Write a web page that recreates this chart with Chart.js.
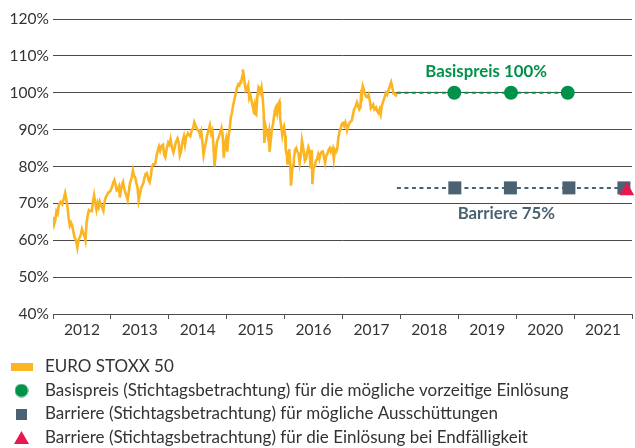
<!DOCTYPE html>
<html><head><meta charset="utf-8">
<script src="https://cdn.jsdelivr.net/npm/chart.js@4.4.1/dist/chart.umd.min.js"></script>
<style>
html,body{margin:0;padding:0;background:#fff;overflow:hidden;width:635px;height:448px;}
#main{position:absolute;left:0;top:0;}
#leg{position:absolute;left:0;top:352px;}
</style></head><body>
<canvas id="main" width="635" height="350"></canvas>
<canvas id="leg" width="635" height="110"></canvas>
<script>
// ---------- data ----------
const yearLabels = ['2012','2013','2014','2015','2016','2017','2018','2019','2020','2021'];
const yTickValues = [40,50,60,70,80,90,100,110,120];

const stoxxDates = [
2012.00,2012.02,2012.04,2012.06,2012.08,2012.10,2012.13,2012.16,2012.19,2012.21,2012.23,2012.25,2012.27,2012.29,2012.31,2012.33,2012.35,2012.37,2012.39,2012.41,2012.42,2012.44,2012.46,2012.48,2012.50,2012.52,2012.54,2012.56,2012.58,2012.60,2012.62,2012.64,2012.67,2012.69,2012.71,2012.73,2012.75,2012.77,2012.79,2012.81,2012.83,2012.85,2012.87,2012.89,2012.91,2012.94,2012.96,2012.99,
2013.02,2013.04,2013.06,2013.08,2013.10,2013.12,2013.14,2013.155,2013.17,2013.19,2013.21,2013.23,2013.25,2013.27,2013.29,2013.31,2013.33,2013.36,2013.38,2013.40,2013.42,2013.44,2013.46,2013.48,2013.50,2013.52,2013.54,2013.56,2013.58,2013.60,2013.62,2013.65,2013.67,2013.69,2013.71,2013.73,2013.75,2013.77,2013.79,2013.81,2013.83,2013.85,2013.87,2013.90,2013.92,2013.94,2013.96,2013.99,
2014.01,2014.03,2014.05,2014.08,2014.10,2014.12,2014.15,2014.17,2014.19,2014.21,2014.24,2014.26,2014.28,2014.30,2014.33,2014.35,2014.37,2014.40,2014.42,2014.44,2014.46,2014.48,2014.50,2014.52,2014.54,2014.56,2014.58,2014.60,2014.62,2014.64,2014.66,2014.69,2014.71,2014.73,2014.75,2014.77,2014.79,2014.81,2014.83,2014.85,2014.88,2014.91,2014.93,2014.95,2014.97,2014.99,
2015.01,2015.03,2015.05,2015.07,2015.09,2015.11,2015.13,2015.16,2015.18,2015.20,2015.22,2015.24,2015.25,2015.27,2015.28,2015.30,2015.32,2015.33,2015.35,2015.37,2015.39,2015.41,2015.44,2015.46,2015.48,2015.49,2015.51,2015.53,2015.55,2015.57,2015.58,2015.60,2015.62,2015.64,2015.65,2015.67,2015.69,2015.71,2015.73,2015.74,2015.76,2015.78,2015.80,2015.82,2015.83,2015.85,2015.87,2015.89,2015.91,2015.92,2015.94,2015.96,2015.98,2015.99,
2016.01,2016.02,2016.04,2016.05,2016.07,2016.08,2016.10,2016.11,2016.13,2016.15,2016.16,2016.18,2016.20,2016.22,2016.24,2016.26,2016.28,2016.30,2016.33,2016.35,2016.37,2016.39,2016.41,2016.43,2016.45,2016.47,2016.48,2016.50,2016.52,2016.54,2016.56,2016.58,2016.60,2016.62,2016.64,2016.66,2016.68,2016.70,2016.72,2016.74,2016.76,2016.78,2016.80,2016.83,2016.85,2016.87,2016.89,2016.91,2016.93,2016.95,2016.97,2016.99,
2017.01,2017.03,2017.05,2017.07,2017.08,2017.10,2017.12,2017.14,2017.16,2017.18,2017.20,2017.22,2017.25,2017.27,2017.29,2017.31,2017.32,2017.33,2017.35,2017.37,2017.39,2017.41,2017.43,2017.45,2017.47,2017.49,2017.51,2017.53,2017.55,2017.58,2017.60,2017.62,2017.64,2017.66,2017.68,2017.70,2017.72,2017.75,2017.77,2017.79,2017.81,2017.83,2017.84,2017.86,2017.88,2017.90,2017.92,2017.94
];
const stoxxValues = [
66.3,64.3,65.5,67.8,67.2,69.5,70.4,69.8,71.5,72.8,71.0,69.0,66.0,64.0,64.8,64.1,62.5,60.9,60.2,58.9,58.0,60.0,60.8,61.5,63.0,62.0,61.3,60.0,64.7,66.8,68.2,68.0,67.9,70.5,72.2,70.0,68.3,70.1,69.0,70.5,69.6,68.8,68.0,70.4,71.6,72.5,73.0,73.3,
74.5,75.6,76.3,75.2,73.5,73.7,74.5,71.6,73.3,75.0,75.8,74.0,73.0,72.0,70.9,73.3,75.5,77.0,78.9,77.5,77.0,75.5,74.3,70.8,72.4,74.0,74.8,75.5,77.0,78.0,78.2,76.3,75.7,77.5,80.0,80.6,80.5,81.0,83.0,84.3,85.4,84.3,85.5,85.9,83.2,82.5,84.5,86.5,
86.0,87.4,85.5,83.8,85.0,86.5,87.6,86.5,83.0,84.0,87.0,88.2,86.0,88.0,89.0,88.5,88.2,90.0,90.3,92.0,91.2,90.5,89.8,89.8,88.5,89.5,86.7,83.2,85.0,86.5,88.3,90.0,91.2,89.0,89.8,86.0,80.0,83.5,86.6,87.5,88.8,90.4,88.5,82.4,86.2,87.5,
84.0,88.0,90.0,93.2,94.5,96.5,98.0,100.1,101.5,102.3,102.0,103.0,102.9,104.5,106.3,104.0,101.5,100.6,101.0,102.0,98.5,99.3,97.0,95.5,96.8,94.3,94.0,99.0,101.5,101.0,100.2,101.5,98.8,94.5,86.4,91.0,89.5,88.0,89.5,84.0,87.0,90.0,91.5,94.0,95.1,96.0,94.5,97.0,97.6,93.5,91.0,88.5,90.5,90.9,
88.3,84.5,83.0,80.5,83.5,84.7,80.0,74.8,79.0,80.5,82.0,84.5,85.0,84.0,83.6,81.0,83.0,87.0,84.2,81.5,82.0,84.0,85.2,84.0,79.5,84.5,75.2,79.7,80.0,81.5,82.0,83.2,82.0,83.5,84.0,84.1,82.5,81.0,83.0,83.5,84.5,85.0,84.0,85.0,82.0,84.5,84.0,84.9,88.0,89.5,90.5,91.6,
91.8,91.0,92.0,91.0,89.9,91.0,91.8,92.2,92.4,94.0,95.5,96.0,97.4,96.5,95.5,96.0,99.5,99.1,101.8,100.8,99.5,98.9,98.8,99.5,98.0,95.8,96.3,96.8,95.5,96.0,95.0,94.5,95.5,94.2,96.5,97.5,98.5,100.0,99.5,100.5,101.3,102.5,102.9,101.5,99.8,99.7,99.3,100.0
];

const strikeDates  = [2017.94, 2018.93, 2019.91, 2020.89];
const strikeValues = [100, 100, 100, 100];
const barrierDates  = [2017.94, 2018.94, 2019.90, 2020.91, 2021.86];
const barrierValues = [74.2, 74.2, 74.2, 74.2, 74.2];
const finalDates  = [2021.91];
const finalValues = [73.4];

const seriesNames = [
  'EURO STOXX 50',
  'Basispreis (Stichtagsbetrachtung) für die mögliche vorzeitige Einlösung',
  'Barriere (Stichtagsbetrachtung) für mögliche Ausschüttungen',
  'Barriere (Stichtagsbetrachtung) für die Einlösung bei Endfälligkeit'
];
const annotationTexts = ['Basispreis 100%', 'Barriere 75%'];
const annotationDates = [2019.48, 2019.83];
const annotationValues = [105.8, 67.2];

// ---------- styles ----------
const YELLOW = '#fbb522', GREEN = '#00924a', SLATE = '#4a6271', RED = '#e8184e', TEXT = '#333333';
const FONT = 'Lato, "Open Sans", sans-serif';

const pts = (xs, ys) => xs.map((x, i) => ({x, y: ys[i]}));

const annotationPlugin = {
  id: 'textLabels',
  afterDatasetsDraw(chart) {
    const {ctx, scales: {x, y}} = chart;
    const colors = [GREEN, SLATE];
    ctx.save();
    ctx.font = 'bold 16.8px ' + FONT;
    ctx.textAlign = 'center';
    ctx.textBaseline = 'middle';
    annotationTexts.forEach((t, i) => {
      ctx.fillStyle = colors[i];
      ctx.fillText(t, x.getPixelForValue(annotationDates[i]), y.getPixelForValue(annotationValues[i]));
    });
    ctx.restore();
  }
};

new Chart(document.getElementById('main'), {
  type: 'line',
  data: {
    datasets: [
      { label: seriesNames[0], data: pts(stoxxDates, stoxxValues), borderColor: YELLOW, borderWidth: 2.6,
        pointRadius: 0, tension: 0, order: 3 },
      { label: seriesNames[1], data: pts(strikeDates, strikeValues), borderColor: GREEN, backgroundColor: GREEN,
        borderWidth: 2, borderDash: [4, 3.5], pointRadius: [0, 7, 7, 7], pointBorderWidth: 0, order: 2 },
      { label: seriesNames[2], data: pts(barrierDates, barrierValues), borderColor: SLATE, backgroundColor: SLATE,
        borderWidth: 2, borderDash: [4, 3.5], pointStyle: 'rect', pointRadius: [0, 9.2, 9.2, 9.2, 9.2], pointBorderWidth: 0, order: 2 },
      { label: seriesNames[3], data: pts(finalDates, finalValues), borderColor: RED, backgroundColor: RED,
        showLine: false, pointStyle: 'triangle', pointRadius: 8.6, pointBorderWidth: 0, order: 0, clip: false }
    ]
  },
  options: {
    responsive: false,
    devicePixelRatio: 1,
    animation: false,
    layout: { autoPadding: false, padding: { top: 19, left: 0, right: 3, bottom: 6 } },
    plugins: { legend: { display: false }, tooltip: { enabled: false } },
    scales: {
      x: {
        type: 'linear', min: 2012, max: 2022,
        afterBuildTicks: (s) => { s.ticks = yearLabels.map((l, i) => ({ value: 2012.5 + i })); },
        afterFit: (s) => { s.height = 30; s.paddingLeft = 0; s.paddingRight = 0; },
        ticks: { callback: (v, i) => yearLabels[i], color: TEXT, font: { family: FONT, size: 15.5 },
                 padding: 2, maxRotation: 0, autoSkip: false },
        grid: { offset: true, drawOnChartArea: false, drawTicks: true, tickLength: 5, color: '#555' },
        border: { display: false }
      },
      y: {
        min: 40, max: 120,
        afterBuildTicks: (s) => { s.ticks = yTickValues.map(v => ({ value: v })); },
        afterFit: (s) => { s.width = 53; },
        ticks: { callback: (v) => v + '%', color: TEXT, font: { family: FONT, size: 15.5 }, padding: 4 },
        grid: { color: '#4a4a4a', lineWidth: 1, drawTicks: false },
        border: { display: false }
      }
    }
  },
  plugins: [annotationPlugin]
});

// ---------- legend (second Chart.js instance, legend only) ----------
function marker(kind) {
  const c = document.createElement('canvas');
  const w = { bar: 22, circle: 14, square: 11, triangle: 15 }[kind];
  const h = { bar: 8, circle: 14, square: 11, triangle: 13 }[kind];
  c.width = w; c.height = h;
  const g = c.getContext('2d');
  if (kind === 'bar') { g.fillStyle = YELLOW; g.fillRect(0, 0, w, h); }
  if (kind === 'circle') { g.fillStyle = GREEN; g.beginPath(); g.arc(7, 7, 6.6, 0, Math.PI * 2); g.fill(); }
  if (kind === 'square') { g.fillStyle = SLATE; g.fillRect(0, 0, w, h); }
  if (kind === 'triangle') { g.fillStyle = RED; g.beginPath(); g.moveTo(7.5, 0); g.lineTo(15, 13); g.lineTo(0, 13); g.closePath(); g.fill(); }
  return c;
}
const markers = [marker('bar'), marker('circle'), marker('square'), marker('triangle')];
const markerColors = [YELLOW, GREEN, SLATE, RED];

new Chart(document.getElementById('leg'), {
  type: 'line',
  data: { datasets: seriesNames.map((n, i) => ({ label: n, data: [], borderColor: markerColors[i], backgroundColor: markerColors[i] })) },
  options: {
    responsive: false,
    devicePixelRatio: 1,
    animation: false,
    layout: { padding: 0 },
    scales: { x: { display: false }, y: { display: false } },
    plugins: {
      tooltip: { enabled: false },
      legend: {
        position: 'chartArea', align: 'start',
        labels: {
          usePointStyle: true, pointStyleWidth: 30, padding: 6.5, color: TEXT,
          font: { family: FONT, size: 17 },
          generateLabels: (chart) => seriesNames.map((n, i) => ({
            text: n, fillStyle: markerColors[i], strokeStyle: markerColors[i], lineWidth: 0,
            pointStyle: markers[i], hidden: false, datasetIndex: i, fontColor: TEXT
          }))
        }
      }
    }
  }
});
</script>
</body></html>
